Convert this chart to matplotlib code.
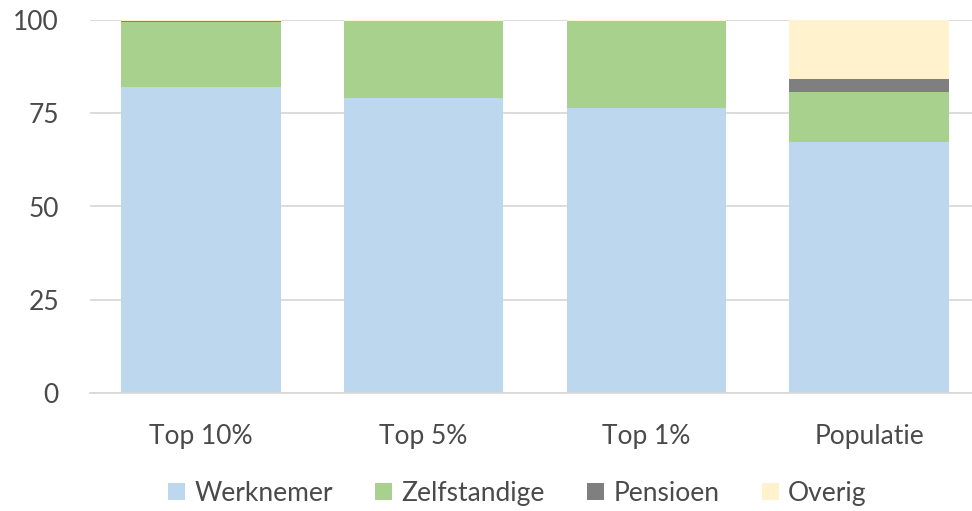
import matplotlib

matplotlib.use("Agg")
import matplotlib.pyplot as plt
import numpy as np

plt.rcParams["font.family"] = ["Lato", "DejaVu Sans"]

categories = ["Top 10%", "Top 5%", "Top 1%", "Populatie"]
werknemer = [82.0, 79.1, 76.4, 67.3]
zelfstandige = [17.5, 20.6, 23.3, 13.4]
pensioen = [0.1, 0.1, 0.1, 3.5]
overig = [0.4, 0.2, 0.2, 15.8]

series = [
    ("Werknemer", werknemer, "#BDD7EE"),
    ("Zelfstandige", zelfstandige, "#A9D18E"),
    ("Pensioen", pensioen, "#7F7F7F"),
    ("Overig", overig, "#FFF2CC"),
]

text_color = "#4a4a4a"
grid_color = "#D9D9D9"

fig = plt.figure(figsize=(9.72, 5.11), dpi=100)
ax = fig.add_axes([89.5 / 972, 1 - 393 / 511, 891 / 972, 373 / 511])

x = np.arange(len(categories))
bottom = np.zeros(len(categories))
for label, values, color in series:
    ax.bar(x, values, width=0.715, bottom=bottom, color=color, label=label, linewidth=0, zorder=2)
    bottom += np.array(values)

ax.set_xlim(-0.5, len(categories) - 0.5)
ax.set_ylim(0, 100)
ax.set_yticks([0, 25, 50, 75, 100])
ax.set_xticks(x)
ax.set_xticklabels(categories)
ax.yaxis.grid(True, color=grid_color, linewidth=1.3, zorder=0)
ax.set_axisbelow(True)
for side in ["top", "right", "left"]:
    ax.spines[side].set_visible(False)
ax.spines["bottom"].set_color(grid_color)
ax.spines["bottom"].set_linewidth(1.3)
ax.tick_params(axis="both", length=0, labelsize=19, colors=text_color)
ax.tick_params(axis="y", pad=22)
ax.tick_params(axis="x", pad=22)

fig.legend(
    loc="center",
    bbox_to_anchor=(0.532, 0.035),
    ncol=4,
    frameon=False,
    fontsize=19,
    labelcolor=text_color,
    handlelength=0.65,
    handleheight=0.65,
    handletextpad=0.35,
    columnspacing=1.6,
)

fig.savefig("out.png", dpi=100)
